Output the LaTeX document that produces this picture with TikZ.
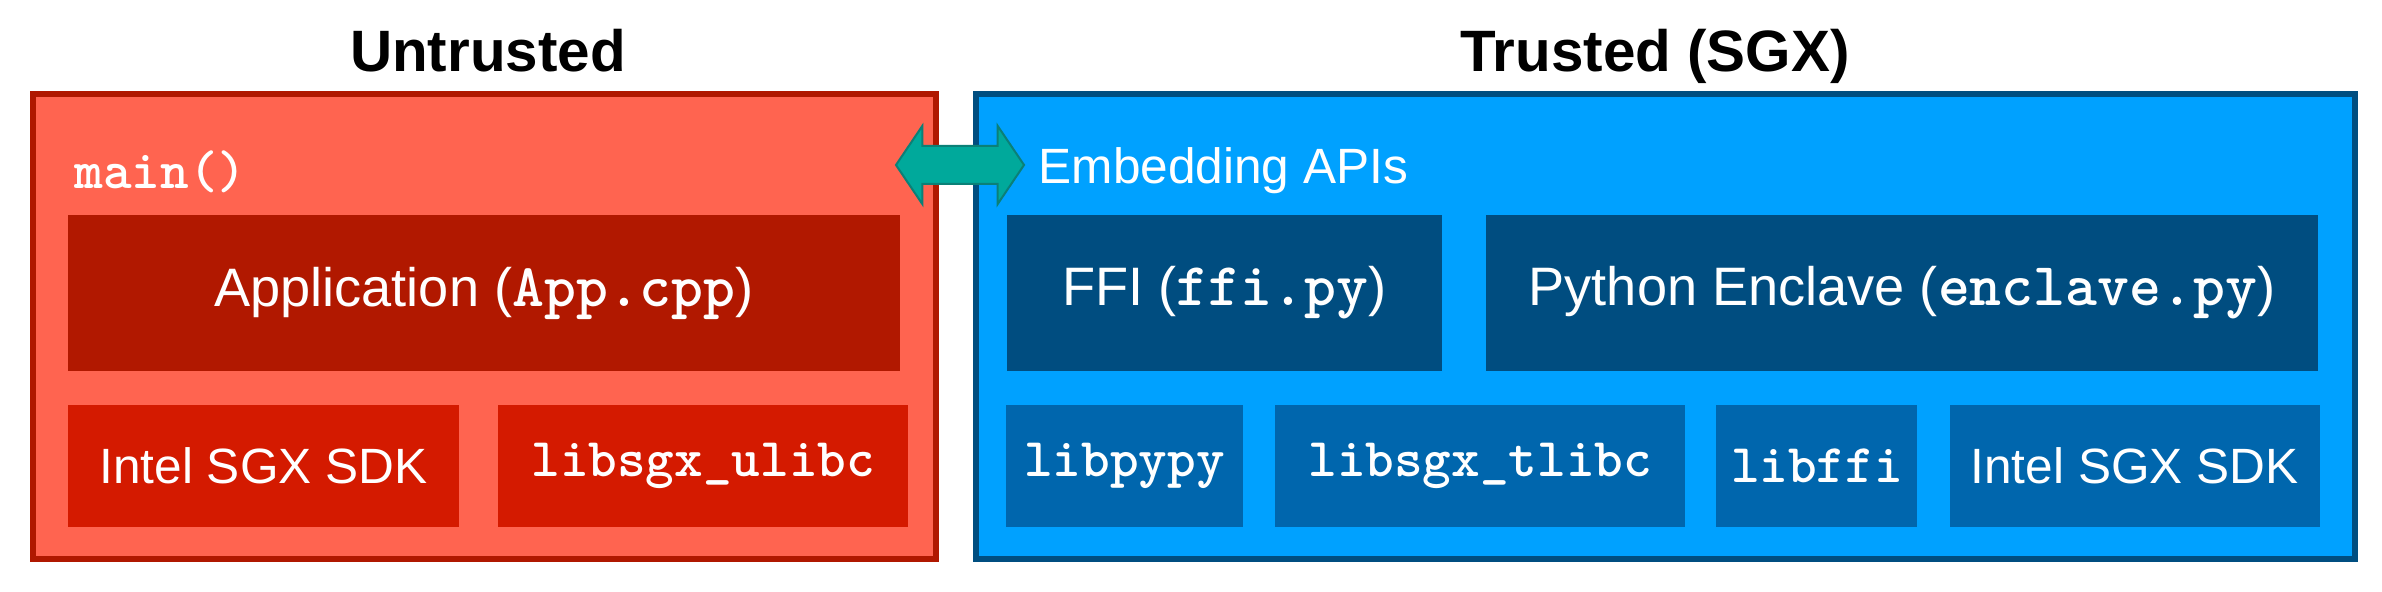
\documentclass[tikz,border=0pt]{standalone}
\usepackage{fontspec}
\usepackage{relsize}
\setmainfont{Liberation Sans}
\usetikzlibrary{shapes,shapes.arrows,positioning}
\definecolor{untrustfill}{HTML}{FF6450}
\definecolor{untrustline}{HTML}{B01800}
\definecolor{appred}{HTML}{B11800}
\definecolor{sdkred}{HTML}{D41A00}
\definecolor{trustfill}{HTML}{00A1FF}
\definecolor{trustline}{HTML}{004E80}
\definecolor{ffiblue}{HTML}{004D80}
\definecolor{libblue}{HTML}{0066AD}
\definecolor{arrowteal}{HTML}{00A99B}
\definecolor{arrowline}{HTML}{0B8077}
\newcommand{\code}[1]{{\ttfamily\bfseries\relscale{1.1}#1}}

\begin{document}
\begin{tikzpicture}[x=0.01cm, y=-0.01cm,
                every node/.append style={font=\fontsize{14.1}{17}\selectfont, text=white},
                zone/.style={draw, line width=0.06cm, minimum height=4.65cm, inner sep=0pt},
                block/.style={minimum height=1.56cm, inner sep=0pt, outer sep=0pt,
                  font=\fontsize{15.4}{18}\selectfont},
                lib/.style={minimum height=1.22cm, inner sep=0pt, outer sep=0pt},
                title/.style={text=black, font=\fontsize{16.6}{20}\selectfont\bfseries}]
                \useasboundingbox (0,0) rectangle (2382,592);
                \node[zone, fill=untrustfill, draw=untrustline, minimum width=9.03cm] (untrusted) at (484.5,326.5) {};
                \node[zone, fill=trustfill, draw=trustline, minimum width=13.79cm] (trusted) at (1665.5,326.5) {};
                \node[title, anchor=base] (untrustedtitle) at (488,72) {Untrusted};
                \node[title, anchor=base] (trustedtitle) at (1655,72) {Trusted (SGX)};
                \begin{scope}
                \node[anchor=base west, inner sep=0pt] (mainlabel) at (74,189) {\code{main()}};
                \node[block, fill=appred, minimum width=8.32cm] (app) at (484,293) {Application (\code{App.cpp})};
                \node[lib, fill=sdkred, minimum width=3.91cm] (sdku) at (263.5,466) {Intel SGX SDK};
                \node[lib, fill=sdkred, minimum width=4.10cm, right=0.39cm of sdku] (ulibc) {\code{libsgx\_ulibc}};
                \end{scope}
                \begin{scope}
                \node[anchor=base west, inner sep=0pt] (apilabel) at (1038,184) {Embedding APIs};
                \node[block, fill=ffiblue, minimum width=4.35cm] (ffi) at (1224.5,293) {FFI (\code{ffi.py})};
                \node[block, fill=ffiblue, minimum width=8.31cm, right=0.44cm of ffi] (enclave) {Python Enclave (\code{enclave.py})};
                \node[lib, fill=libblue, minimum width=2.37cm] (pypy) at (1124.5,466) {\code{libpypy}};
                \node[lib, fill=libblue, minimum width=4.10cm, right=0.32cm of pypy] (tlibc) {\code{libsgx\_tlibc}};
                \node[lib, fill=libblue, minimum width=2.01cm, right=0.31cm of tlibc] (libffi) {\code{libffi}};
                \node[lib, fill=libblue, minimum width=3.70cm, right=0.32cm of libffi] (sdkt) {Intel SGX SDK};
                \end{scope}
                \node[double arrow, draw=arrowline, fill=arrowteal, line width=0.02cm,
                  inner xsep=0pt, inner ysep=0.18cm,
                  minimum height=1.28cm, minimum width=0.76cm, double arrow head extend=0.2cm,
                  double arrow tip angle=112] (api) at (960,165) {};
                \end{tikzpicture}
\end{document}
